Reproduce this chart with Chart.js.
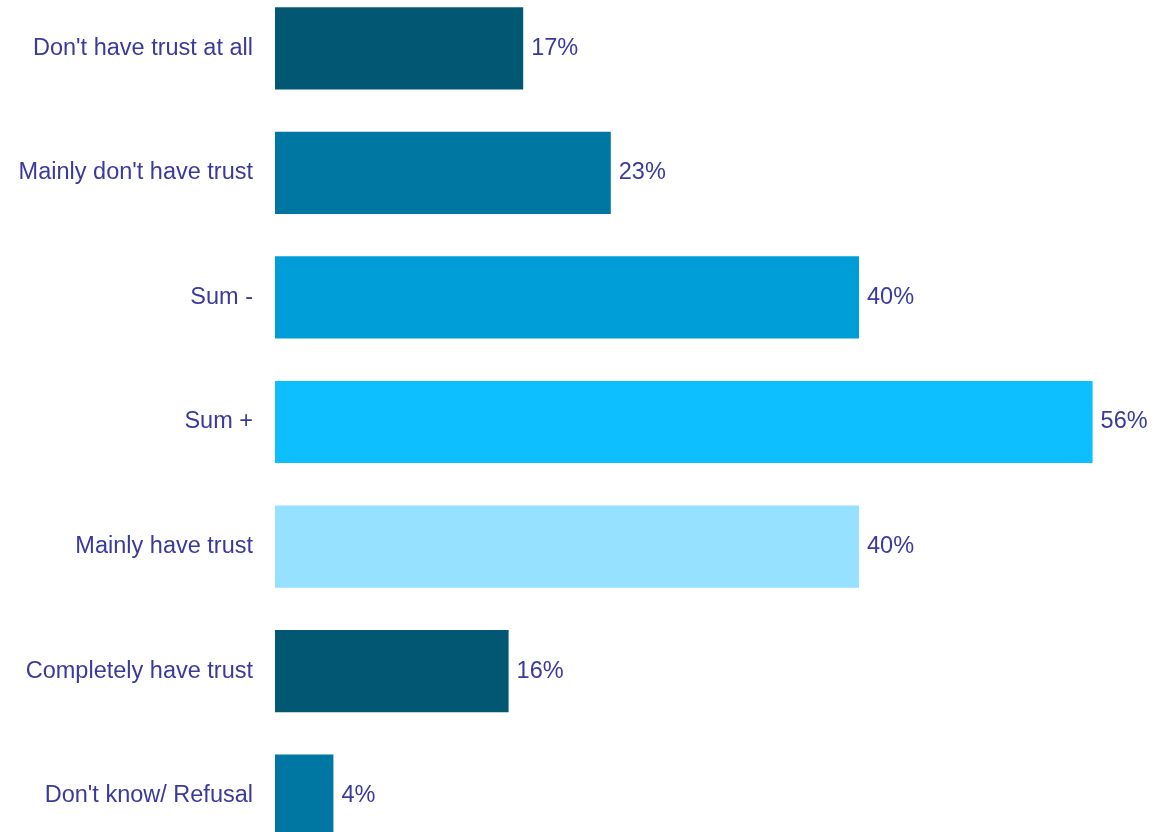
<!DOCTYPE html>
<html>
<head>
<meta charset="utf-8">
<script src="https://cdn.jsdelivr.net/npm/chart.js@4/dist/chart.umd.min.js"></script>
<style>
  html, body { margin: 0; padding: 0; background: #ffffff; overflow: hidden; }
  #wrap { position: relative; width: 1153px; height: 832px; overflow: hidden; }
  /* the plot runs slightly past the top and bottom edges of the frame */
  #chart { position: absolute; left: 0; top: -14px; }
</style>
</head>
<body>
<div id="wrap"><canvas id="chart" width="1153" height="872"></canvas></div>
<script>
// Trust survey answers, share of respondents (%)
const categories = [
  "Don't have trust at all",
  "Mainly don't have trust",
  "Sum -",
  "Sum +",
  "Mainly have trust",
  "Completely have trust",
  "Don't know/ Refusal"
];
const shares = [17, 23, 40, 56, 40, 16, 4];
const barColors = ["#025873", "#0077A3", "#009ED8", "#0EBFFF", "#96E1FF", "#025873", "#0077A3"];

const textColor = "#3A3A9E";
const fontFamily = "'Liberation Sans', Arial, sans-serif";
const fontSize = 23.5;

// Category names right-aligned against the bars, percentages past each bar end
const textLabels = {
  id: "textLabels",
  afterDatasetsDraw(chart) {
    const ctx = chart.ctx;
    const yScale = chart.scales.y;
    const meta = chart.getDatasetMeta(0);
    ctx.save();
    ctx.fillStyle = textColor;
    ctx.font = fontSize + "px " + fontFamily;
    ctx.textBaseline = "middle";
    ctx.textAlign = "right";
    categories.forEach((name, i) => {
      ctx.fillText(name, yScale.right - 22, yScale.getPixelForTick(i));
    });
    ctx.textAlign = "left";
    meta.data.forEach((bar, i) => {
      ctx.fillText(shares[i] + "%", bar.x + 8, bar.y);
    });
    ctx.restore();
  }
};

new Chart(document.getElementById("chart"), {
  type: "bar",
  data: {
    labels: categories,
    datasets: [{
      data: shares,
      backgroundColor: barColors,
      borderWidth: 0,
      categoryPercentage: 1,
      barPercentage: 0.66
    }]
  },
  options: {
    indexAxis: "y",
    responsive: false,
    animation: false,
    devicePixelRatio: 1,
    layout: { padding: { left: 0, right: 2, top: 0, bottom: 0 } },
    plugins: {
      legend: { display: false },
      tooltip: { enabled: false }
    },
    scales: {
      x: {
        display: false,
        min: 0,
        max: 60
      },
      y: {
        grid: { display: false },
        border: { display: false },
        ticks: { display: false },
        afterFit(scale) { scale.width = 275; }
      }
    }
  },
  plugins: [textLabels]
});
</script>
</body>
</html>
